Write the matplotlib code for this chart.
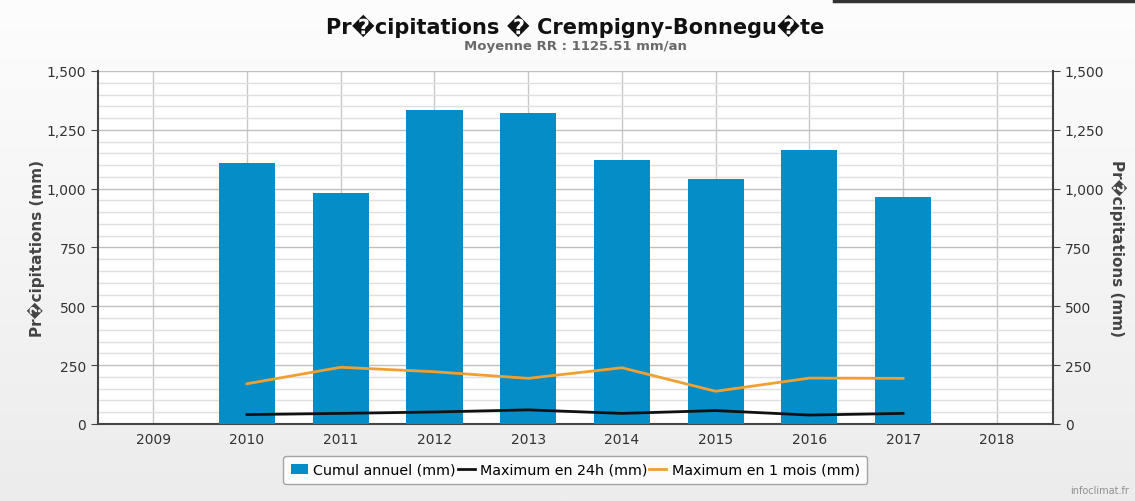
import matplotlib.pyplot as plt
import numpy as np
from matplotlib.ticker import MultipleLocator, FuncFormatter

## Données
annees = ['2009', '2010', '2011', '2012', '2013', '2014', '2015', '2016', '2017', '2018']
annees_bar = ['2010', '2011', '2012', '2013', '2014', '2015', '2016', '2017']
cumul = [1109, 980, 1334, 1323, 1121, 1040, 1163, 963]
max_24h = [40, 45, 51, 60, 45, 57, 38, 45]
max_1mois = [171, 241, 222, 194, 239, 139, 195, 194]

titre = 'Pr\ufffdcipitations \ufffd Crempigny-Bonnegu\ufffdte'
sous_titre = 'Moyenne RR : 1125.51 mm/an'
label_y = 'Pr\ufffdcipitations (mm)'

bleu = '#058dc7'
orange = '#f0a030'
noir = '#111111'

plt.rcParams['font.family'] = ['DejaVu Sans']

fig = plt.figure(figsize=(11.35, 5.02), dpi=100)

# fond en dégradé
bg = fig.add_axes([0, 0, 1, 1], zorder=-10)
grad = np.linspace(0, 1, 256).reshape(-1, 1)
bg.imshow(grad, aspect='auto', cmap=plt.matplotlib.colors.LinearSegmentedColormap.from_list(
    'g', ['#fdfdfd', '#ececec']), extent=[0, 1, 0, 1])
bg.axis('off')
bg.plot([0.735, 1.0], [0.997, 0.997], color='#333333', lw=2.5, transform=bg.transAxes)

ax = fig.add_axes([0.0863, 0.1534, 0.8415, 0.7032])
ax.set_facecolor('white')

idx = {a: i for i, a in enumerate(annees)}
xb = [idx[a] for a in annees_bar]

b = ax.bar(xb, cumul, width=0.6, color=bleu, zorder=3, label='Cumul annuel (mm)')
l1, = ax.plot(xb, max_24h, color=noir, lw=2, zorder=4, label='Maximum en 24h (mm)')
l2, = ax.plot(xb, max_1mois, color=orange, lw=2, zorder=4, label='Maximum en 1 mois (mm)')

ax.set_xlim(-0.59, 9.6)
ax.set_ylim(0, 1500)
ax.set_xticks(range(len(annees)))
ax.set_xticklabels(annees)
ax.yaxis.set_major_locator(MultipleLocator(250))
ax.yaxis.set_minor_locator(MultipleLocator(50))
ax.yaxis.set_major_formatter(FuncFormatter(lambda v, p: '{:,.0f}'.format(v)))

ax.grid(axis='y', which='major', color='#c0c0c0', lw=1, zorder=0)
ax.grid(axis='y', which='minor', color='#e0e0e0', lw=1, zorder=0)
ax.grid(axis='x', which='major', color='#c8c8c8', lw=1, zorder=0)

ax.spines['top'].set_visible(False)
for s in ['left', 'right', 'bottom']:
    ax.spines[s].set_color('#444444')
    ax.spines[s].set_linewidth(1.5)

ax.tick_params(axis='y', which='major', length=5, color='#444444', labelsize=10,
               labelcolor='#333333', left=True, right=True, labelright=True)
ax.tick_params(axis='y', which='minor', length=0, left=False, right=False)
ax.tick_params(axis='x', length=0, labelsize=10, labelcolor='#333333', pad=6)

ax.set_ylabel(label_y, fontsize=11, fontweight='bold', color='#444444', labelpad=1)
ax2 = ax.secondary_yaxis('right')
ax2.set_yticks([])
ax2.spines['right'].set_visible(False)
ax2.set_ylabel(label_y, fontsize=11, fontweight='bold', color='#444444',
               rotation=270, labelpad=53)

fig.text(0.507, 0.948, titre, ha='center', va='center', fontsize=15,
         fontweight='bold', color='#111111')
fig.text(0.507, 0.908, sous_titre, ha='center', va='center', fontsize=9.5,
         fontweight='bold', color='#6a6a6a')

leg = fig.legend([b, l1, l2], [b.get_label(), l1.get_label(), l2.get_label()],
                 loc='center', bbox_to_anchor=(0.507, 0.062), ncol=3, fontsize=10.3,
                 frameon=True, fancybox=True, edgecolor='#909090', facecolor='white',
                 handlelength=1.2, handletextpad=0.4, columnspacing=0.1,
                 borderpad=0.5)
leg.get_frame().set_linewidth(1)

fig.text(0.995, 0.012, 'infoclimat.fr', ha='right', va='bottom', fontsize=7, color='#909090')

fig.savefig('out.png', dpi=100)
